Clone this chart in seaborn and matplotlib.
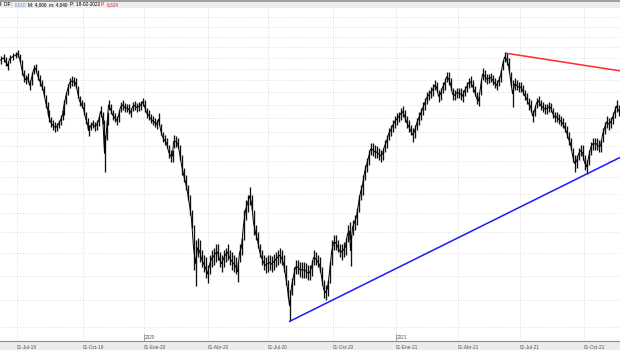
import numpy as np
import matplotlib
matplotlib.use("Agg")
import matplotlib.pyplot as plt
import seaborn as sns
from matplotlib.patches import Rectangle
from matplotlib.ticker import FixedLocator, NullLocator
from matplotlib.transforms import blended_transform_factory

# ---------------- data (trading-session index, daily high/low prices) ----------------
session = [0, 3, 5, 7, 9, 12, 15, 17, 19, 21, 23, 25, 27, 29, 31, 33, 35, 37, 39, 41, 43, 45, 47, 48,
           50, 52, 54, 56, 58, 60, 62, 63, 65, 67, 69, 71, 73, 75, 77, 79, 81, 83, 85, 87, 88, 90, 92,
           94, 96, 98, 100, 102, 103, 104, 106, 107, 108, 110, 112, 114, 116, 118, 120, 122, 124, 126,
           128, 130, 132, 134, 136, 138, 140, 142, 144, 146, 148, 150, 152, 154, 156, 158, 160, 162,
           164, 166, 168, 170, 172, 173, 175, 177, 179, 181, 183, 185, 187, 189, 191, 193, 195, 197,
           199, 201, 203, 205, 207, 209, 211, 213, 215, 217, 219, 221, 223, 225, 227, 229, 231, 233,
           235, 237, 239, 241, 243, 245, 247, 249, 251, 253, 255, 257, 259, 261, 263, 265, 267, 269,
           271, 273, 275, 277, 279, 281, 283, 285, 287, 289, 291, 293, 295, 297, 299, 301, 303, 305,
           307, 309, 311, 313, 315, 317, 319, 321, 323, 325, 327, 329, 331, 333, 335, 337, 339, 341,
           343, 345, 347, 349, 350, 352, 354, 356, 358, 360, 362, 364, 366, 368, 370, 372, 374, 376,
           378, 380, 382, 384, 386, 388, 390, 392, 394, 396, 398, 400, 402, 404, 406, 408, 410, 412,
           414, 416, 418, 420, 422, 424, 426, 428, 430, 432, 434, 436, 438, 440, 442, 444, 446, 448,
           450, 452, 454, 456, 458, 460, 462, 464, 466, 468, 470, 472, 474, 476, 478, 480, 482, 484,
           486, 488, 490, 492, 494, 496, 498, 500, 502, 504, 506, 508, 510, 512, 514, 516, 518, 520,
           522, 524, 526, 528, 530, 532, 534, 536, 538, 540, 542, 544, 546, 548, 550, 552, 554, 556,
           558, 560, 562, 564, 566, 568, 570, 572, 574, 576, 578, 580, 582, 584, 586, 588, 590, 592,
           594, 596, 598, 600, 602, 604, 606, 608, 610, 612, 614, 616, 618, 620]

high = [5.23, 5.27, 5.21, 5.12, 5.25, 5.28, 5.30, 5.34, 5.27, 5.15, 4.98, 4.89, 4.92, 4.80, 4.94, 5.06,
        5.08, 4.98, 4.89, 4.80, 4.70, 4.55, 4.44, 4.32, 4.21, 4.17, 4.14, 4.12, 4.17, 4.24, 4.32, 4.47,
        4.60, 4.73, 4.84, 4.87, 4.85, 4.84, 4.70, 4.54, 4.47, 4.44, 4.29, 4.20, 4.09, 4.14, 4.17, 4.14,
        4.17, 4.23, 4.38, 4.29, 4.17, 3.95, 4.17, 4.29, 4.47, 4.41, 4.32, 4.27, 4.23, 4.32, 4.44, 4.47,
        4.43, 4.41, 4.41, 4.35, 4.44, 4.46, 4.43, 4.44, 4.46, 4.51, 4.47, 4.35, 4.32, 4.26, 4.23, 4.20,
        4.17, 4.27, 4.11, 3.99, 3.95, 3.91, 3.81, 3.75, 3.75, 3.95, 3.94, 3.91, 3.81, 3.68, 3.52, 3.43,
        3.31, 3.19, 3.03, 2.87, 2.72, 2.74, 2.72, 2.63, 2.58, 2.56, 2.49, 2.58, 2.63, 2.65, 2.68, 2.68,
        2.61, 2.58, 2.63, 2.65, 2.68, 2.63, 2.61, 2.58, 2.56, 2.52, 2.68, 2.74, 3.03, 3.14, 3.19, 3.29,
        3.19, 3.03, 2.87, 2.80, 2.68, 2.63, 2.58, 2.56, 2.58, 2.58, 2.57, 2.59, 2.61, 2.63, 2.65, 2.63,
        2.58, 2.49, 2.36, 2.28, 2.38, 2.47, 2.54, 2.54, 2.52, 2.52, 2.52, 2.51, 2.49, 2.49, 2.54, 2.63,
        2.61, 2.58, 2.56, 2.47, 2.36, 2.32, 2.36, 2.52, 2.72, 2.77, 2.77, 2.72, 2.68, 2.68, 2.70, 2.74,
        2.87, 2.90, 2.77, 2.92, 2.98, 3.05, 3.19, 3.31, 3.43, 3.55, 3.64, 3.75, 3.84, 3.84, 3.81, 3.80,
        3.77, 3.75, 3.77, 3.88, 3.95, 4.05, 4.09, 4.17, 4.23, 4.27, 4.29, 4.35, 4.38, 4.32, 4.23, 4.17,
        4.09, 4.05, 4.09, 4.20, 4.29, 4.35, 4.44, 4.51, 4.60, 4.63, 4.68, 4.73, 4.80, 4.77, 4.63, 4.67,
        4.77, 4.84, 4.94, 4.94, 4.84, 4.67, 4.63, 4.67, 4.67, 4.67, 4.63, 4.70, 4.77, 4.84, 4.87, 4.80,
        4.70, 4.60, 4.54, 4.80, 5.01, 4.98, 4.91, 4.91, 4.92, 4.89, 4.84, 4.80, 4.87, 4.98, 5.15, 5.30,
        5.28, 5.19, 4.94, 4.80, 4.84, 4.80, 4.77, 4.77, 4.72, 4.63, 4.59, 4.51, 4.47, 4.32, 4.39, 4.51,
        4.54, 4.47, 4.44, 4.41, 4.41, 4.44, 4.43, 4.35, 4.29, 4.29, 4.26, 4.23, 4.20, 4.14, 4.08, 3.99,
        3.91, 3.77, 3.68, 3.68, 3.77, 3.81, 3.81, 3.68, 3.62, 3.75, 3.86, 3.91, 3.91, 3.91, 3.88, 3.88,
        4.05, 4.14, 4.23, 4.20, 4.21, 4.29, 4.38, 4.47, 4.39, 4.35]

low = [5.08, 5.12, 5.05, 4.98, 5.10, 5.15, 5.19, 5.21, 5.12, 4.89, 4.77, 4.73, 4.77, 4.63, 4.72, 4.91,
       4.94, 4.80, 4.70, 4.63, 4.54, 4.35, 4.24, 4.14, 4.07, 4.02, 3.99, 4.01, 4.05, 4.09, 4.17, 4.24,
       4.41, 4.55, 4.67, 4.70, 4.70, 4.67, 4.51, 4.38, 4.35, 4.24, 4.11, 4.02, 3.94, 4.02, 4.05, 4.01,
       4.02, 4.08, 4.21, 4.11, 3.81, 3.47, 3.88, 4.09, 4.32, 4.26, 4.17, 4.14, 4.09, 4.14, 4.29, 4.32,
       4.29, 4.29, 4.26, 4.21, 4.30, 4.32, 4.29, 4.30, 4.32, 4.38, 4.29, 4.20, 4.17, 4.12, 4.09, 4.07,
       4.04, 4.09, 3.95, 3.86, 3.81, 3.77, 3.64, 3.59, 3.59, 3.77, 3.79, 3.77, 3.62, 3.43, 3.35, 3.25,
       3.14, 2.98, 2.84, 2.45, 2.31, 2.56, 2.52, 2.47, 2.43, 2.38, 2.34, 2.41, 2.47, 2.49, 2.52, 2.54,
       2.47, 2.43, 2.47, 2.52, 2.54, 2.49, 2.45, 2.43, 2.41, 2.35, 2.52, 2.58, 2.72, 2.92, 3.01, 3.08,
       3.03, 2.77, 2.72, 2.65, 2.56, 2.49, 2.45, 2.42, 2.43, 2.45, 2.43, 2.45, 2.47, 2.49, 2.51, 2.49,
       2.43, 2.32, 2.22, 2.04, 2.24, 2.32, 2.41, 2.41, 2.39, 2.38, 2.38, 2.38, 2.36, 2.36, 2.40, 2.49,
       2.49, 2.47, 2.43, 2.32, 2.22, 2.20, 2.23, 2.34, 2.49, 2.63, 2.63, 2.61, 2.56, 2.54, 2.56, 2.58,
       2.70, 2.72, 2.48, 2.77, 2.82, 2.87, 3.01, 3.14, 3.19, 3.37, 3.47, 3.55, 3.68, 3.67, 3.64, 3.64,
       3.62, 3.59, 3.62, 3.72, 3.77, 3.88, 3.94, 3.99, 4.05, 4.09, 4.14, 4.17, 4.21, 4.14, 4.05, 3.99,
       3.95, 3.86, 3.91, 4.02, 4.09, 4.17, 4.24, 4.32, 4.41, 4.47, 4.51, 4.54, 4.63, 4.60, 4.44, 4.47,
       4.59, 4.63, 4.77, 4.72, 4.63, 4.47, 4.47, 4.51, 4.51, 4.47, 4.44, 4.54, 4.60, 4.67, 4.68, 4.60,
       4.54, 4.41, 4.38, 4.55, 4.80, 4.77, 4.73, 4.75, 4.77, 4.72, 4.67, 4.63, 4.70, 4.77, 4.98, 5.12,
       5.06, 4.94, 4.70, 4.36, 4.63, 4.63, 4.60, 4.60, 4.55, 4.47, 4.41, 4.32, 4.29, 4.14, 4.23, 4.35,
       4.38, 4.32, 4.29, 4.26, 4.26, 4.29, 4.29, 4.20, 4.14, 4.14, 4.11, 4.08, 4.05, 3.99, 3.91, 3.81,
       3.75, 3.59, 3.47, 3.52, 3.62, 3.67, 3.62, 3.49, 3.44, 3.55, 3.68, 3.75, 3.75, 3.75, 3.72, 3.72,
       3.86, 3.97, 4.05, 4.02, 4.05, 4.11, 4.20, 4.29, 4.23, 4.20]

quarter_session = [16, 82, 143, 207, 267, 332, 395, 457, 519, 583]
quarter_label = ["01-Jul-19", "01-Oct-19", "01-Ene-20", "01-Abr-20", "01-Jul-20",
                 "01-Oct-20", "01-Ene-21", "01-Abr-21", "01-Jul-21", "01-Oct-21"]
year_session = [143, 395]
year_label = ["2020", "2021"]

support_session = [289, 586]
support_price = [2.04, 3.44]
resistance_session = [506, 620]
resistance_price = [5.28, 4.96]

header_parts = [("4", "black"), ("DIF:", "black"), ("0,010", "#5b8fd6"), ("M: 4,066", "black"),
                ("m: 4,040", "black"), ("P: 18-02-2022", "black"), ("P:", "#e02020"),
                ("6,324", "#e02020")]

# ---------------- figure ----------------
sns.set_theme(style="white")
plt.rcParams['font.family'] = ['Liberation Sans', 'DejaVu Sans']

W, H = 620, 350
fig = plt.figure(figsize=(W / 100, H / 100), dpi=100)
fig.patch.set_facecolor("white")

# header and footer bands
fig.add_artist(Rectangle((0, 1 - 8 / H), 1, 8 / H, transform=fig.transFigure,
                         facecolor="#ededed", edgecolor="none", zorder=0))
fig.add_artist(Rectangle((0, 1 - 1.5 / H), 1, 1.5 / H, transform=fig.transFigure,
                         facecolor="#a0a0a0", edgecolor="none", zorder=1))
fig.add_artist(Rectangle((0, 0), 1, 9 / H, transform=fig.transFigure,
                         facecolor="#ececec", edgecolor="none", zorder=0))

ax = fig.add_axes([0, 9 / H, 1, 333 / H])
ax.set_facecolor("white")
ax.set_yscale("log")
ax.set_xlim(-0.5, 619.5)
ax.set_ylim(1.903, 6.2)

grid_prices = np.arange(2.0, 6.05, 0.2)
ax.yaxis.set_major_locator(FixedLocator(grid_prices))
ax.yaxis.set_minor_locator(NullLocator())
ax.tick_params(axis="y", left=False, right=False, labelleft=False)

ax.set_xticks(quarter_session)
ax.set_xticklabels(quarter_label, fontsize=3.4, color="#555555", ha="left")
ax.tick_params(axis="x", direction="inout", length=4, width=0.5, color="#808080", pad=0.8)

ax.grid(True, which="major", axis="both", color="#d2d2d2", linestyle=(0, (1, 2)), linewidth=0.6)

for sp in ["top", "left", "right"]:
    ax.spines[sp].set_visible(False)
ax.spines["bottom"].set_color("#8c8c8c")
ax.spines["bottom"].set_linewidth(0.8)

# price bars
ax.vlines(session, low, high, color="#111111", linewidth=0.95, zorder=3)
mid = np.sqrt(np.array(high) * np.array(low))
sns.lineplot(x=session, y=mid, ax=ax, color="black", linewidth=0.7, zorder=3)


def extend(sess, price, x_end):
    slope = (np.log(price[1]) - np.log(price[0])) / (sess[1] - sess[0])
    return [sess[0], x_end], [price[0], price[0] * np.exp(slope * (x_end - sess[0]))]


sx, sy = extend(support_session, support_price, 640)
rx, ry = extend(resistance_session, resistance_price, 640)
sns.lineplot(x=sx, y=sy, ax=ax, color="#1a1aff", linewidth=1.1, zorder=4)
sns.lineplot(x=rx, y=ry, ax=ax, color="#ff2a2a", linewidth=1.1, zorder=4)

# year markers above the axis
trans = blended_transform_factory(ax.transData, ax.transAxes)
for s, lab in zip(year_session, year_label):
    ax.plot([s, s], [0, 0.02], transform=trans, color="#808080", linewidth=0.5, clip_on=False)
    ax.text(s + 1, 0.004, lab, transform=trans, fontsize=3.4, color="#555555",
            ha="left", va="bottom")

ax.set_xlabel("")
ax.set_ylabel("")

# header text
xpos = [-1, 4, 15, 28, 49, 70, 101, 107]
for (txt, col), xp in zip(header_parts, xpos):
    fig.text(xp / W, 1 - 5 / H, txt, fontsize=3.4, color=col, ha="left", va="center")

fig.savefig("out.png", dpi=100)
